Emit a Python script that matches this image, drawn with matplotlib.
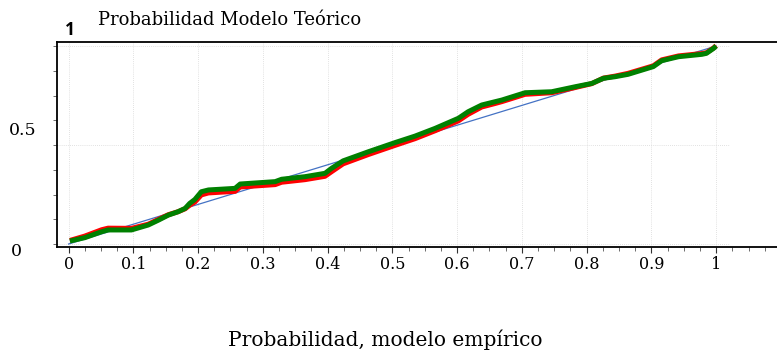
import matplotlib
matplotlib.use("Agg")
import matplotlib.pyplot as plt
from matplotlib.ticker import MultipleLocator, NullFormatter

# Empirical probability (x) against theoretical probability (y)
emp_x = [0.002, 0.025, 0.051, 0.061, 0.097, 0.123, 0.139, 0.154, 0.169, 0.180,
         0.187, 0.195, 0.205, 0.216, 0.257, 0.265, 0.319, 0.329, 0.365, 0.396,
         0.406, 0.424, 0.463, 0.504, 0.535, 0.566, 0.602, 0.617, 0.638, 0.659,
         0.669, 0.705, 0.746, 0.782, 0.808, 0.826, 0.844, 0.864, 0.903, 0.916,
         0.942, 0.978, 0.985, 0.996, 1.000]

# Model A (green)
green_y = [0.015, 0.032, 0.062, 0.071, 0.071, 0.096, 0.121, 0.146, 0.163, 0.180,
           0.205, 0.225, 0.264, 0.273, 0.281, 0.303, 0.315, 0.327, 0.340, 0.357,
           0.382, 0.420, 0.466, 0.512, 0.545, 0.584, 0.635, 0.668, 0.702, 0.719,
           0.727, 0.764, 0.769, 0.794, 0.811, 0.837, 0.845, 0.857, 0.896, 0.926,
           0.946, 0.958, 0.963, 0.988, 1.000]

# Model B (red)
red_y = [0.018, 0.040, 0.072, 0.080, 0.079, 0.100, 0.125, 0.148, 0.163, 0.178,
         0.196, 0.212, 0.248, 0.258, 0.266, 0.288, 0.300, 0.312, 0.325, 0.342,
         0.365, 0.405, 0.452, 0.498, 0.532, 0.572, 0.622, 0.655, 0.692, 0.710,
         0.719, 0.756, 0.764, 0.790, 0.810, 0.838, 0.848, 0.862, 0.900, 0.930,
         0.950, 0.962, 0.966, 0.990, 1.002]

# Reference diagonal
diag = [0.0, 1.0]

x_ticks = [0.0, 0.1, 0.2, 0.3, 0.4, 0.5, 0.6, 0.7, 0.8, 0.9, 1.0]
x_tick_labels = ["0", "0.1", "0.2", "0.3", "0.4", "0.5", "0.6", "0.7", "0.8", "0.9", "1"]

serif = "DejaVu Serif"

fig = plt.figure(figsize=(7.77, 3.54), dpi=100)
ax = fig.add_axes([0.0737, 0.3031, 0.9263, 0.5774])
ax.set_xlim(-0.0175, 1.094)
ax.set_ylim(-0.0136, 1.0187)

# light dotted grid, limited to the data region
for gx in x_ticks:
    ax.plot([gx, gx], [-0.0136, 1.0187], color="#d8d8d8", lw=0.6, ls=(0, (1, 1.5)), zorder=0)
for gy in [0.0, 0.5, 1.0]:
    ax.plot([-0.0175, 1.02], [gy, gy], color="#d8d8d8", lw=0.6, ls=(0, (1, 1.5)), zorder=0)

ax.plot(diag, diag, color="#4472C4", lw=0.9, zorder=1)
ax.plot(emp_x, red_y, color="#ff0000", lw=3.6, zorder=2, solid_capstyle="butt")
ax.plot(emp_x, green_y, color="#008000", lw=3.6, zorder=3, solid_capstyle="butt")

ax.spines["right"].set_visible(False)
for side in ["left", "bottom", "top"]:
    ax.spines[side].set_linewidth(1.3)
    ax.spines[side].set_color("black")

ax.set_xticks(x_ticks)
ax.set_xticklabels(x_tick_labels, fontfamily=serif, fontsize=11.5)
ax.xaxis.set_minor_locator(MultipleLocator(0.025))
ax.tick_params(axis="x", which="major", length=4, width=0.8, direction="out", pad=3,
               colors="#333333", labelcolor="black")
ax.tick_params(axis="x", which="minor", length=3, width=0.6, direction="out", colors="#555555")

ax.yaxis.set_major_locator(MultipleLocator(0.125))
ax.yaxis.set_major_formatter(NullFormatter())
ax.tick_params(axis="y", which="major", length=3, width=0.6, direction="out", colors="#555555")

# axis annotations
fig.text(22.5 / 777, 1 - 130 / 354, "0.5", fontfamily=serif, fontsize=12.5, ha="center", va="center")
fig.text(16 / 777, 1 - 251 / 354, "0", fontfamily=serif, fontsize=12.5, ha="center", va="center")
fig.text(69.5 / 777, 1 - 30 / 354, "1", fontfamily="Open Sans", fontweight="bold", fontsize=12.5,
         ha="center", va="center")
fig.text(98 / 777, 1 - 20 / 354, "Probabilidad Modelo Teórico", fontfamily=serif, fontsize=13,
         ha="left", va="center")
fig.text(385.5 / 777, 1 - 340 / 354, "Probabilidad, modelo empírico", fontfamily=serif, fontsize=14.5,
         ha="center", va="center")

fig.savefig("out.png", dpi=100)
